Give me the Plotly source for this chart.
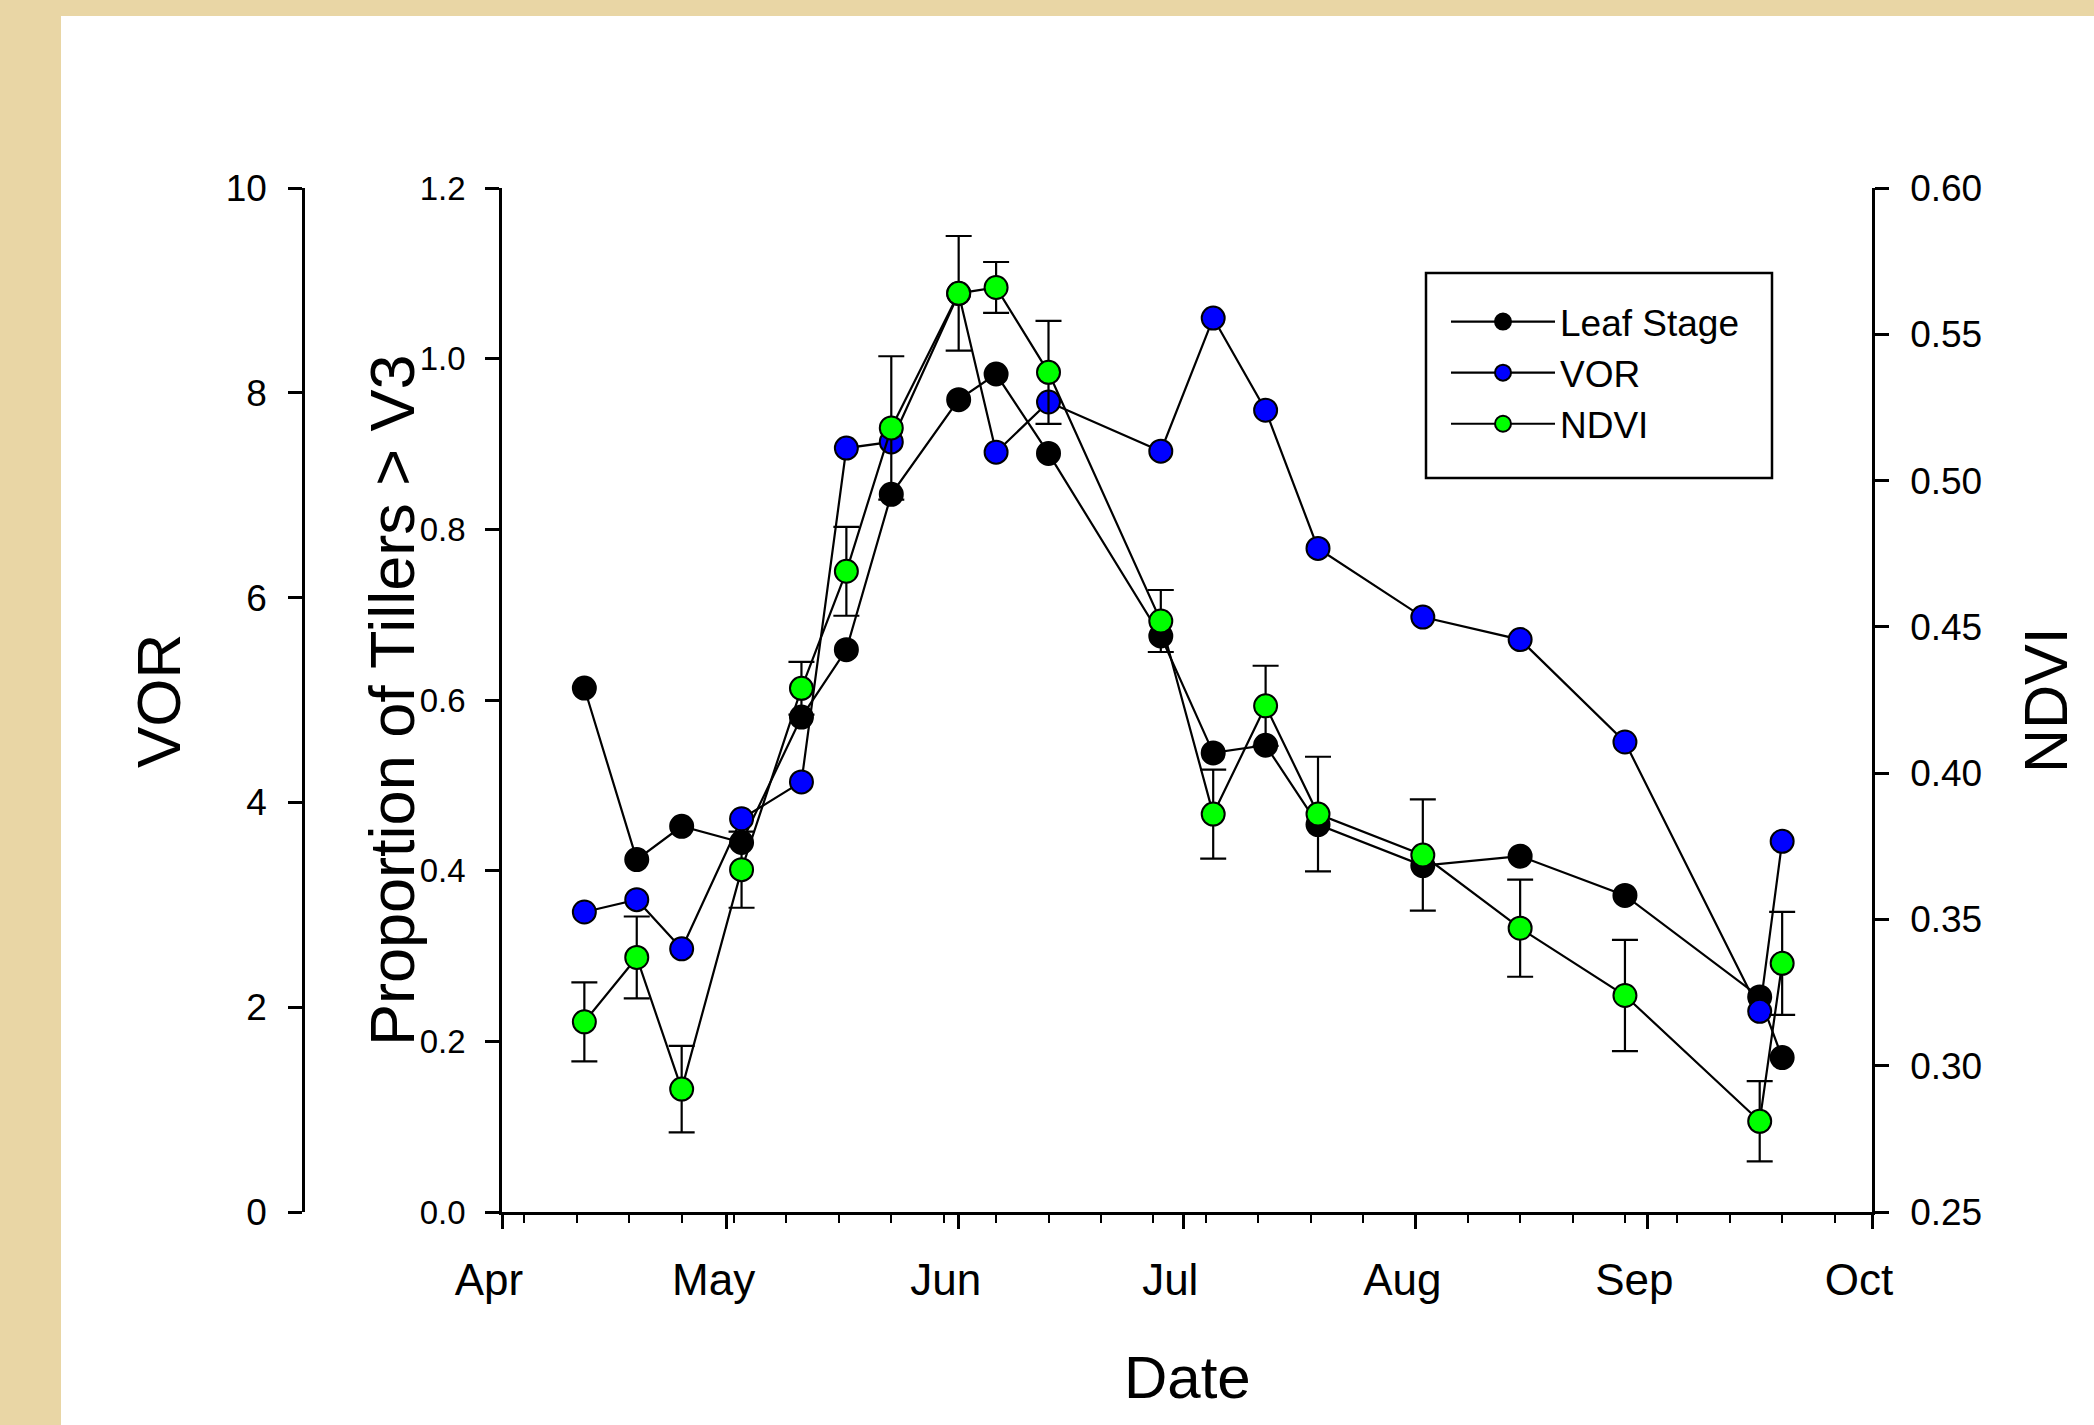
import plotly.graph_objects as go

# ---------------- data ----------------
dates = ["2010-04-12", "2010-04-19", "2010-04-25", "2010-05-03", "2010-05-11",
         "2010-05-17", "2010-05-23", "2010-06-01", "2010-06-06", "2010-06-13",
         "2010-06-28", "2010-07-05", "2010-07-12", "2010-07-19", "2010-08-02",
         "2010-08-15", "2010-08-29", "2010-09-16", "2010-09-19"]

leaf_stage = [0.614, 0.413, 0.452, 0.433, 0.580, 0.659, 0.841, 0.952, 0.982, 0.889,
              0.675, 0.538, 0.547, 0.454, 0.406, 0.417, 0.371, 0.252, 0.181]

vor = [2.93, 3.05, 2.57, 3.84, 4.20, 7.46, 7.52, 8.97, 7.42, 7.91,
       7.43, 8.73, 7.83, 6.48, 5.81, 5.59, 4.59, 1.96, 3.62]

ndvi = [0.315, 0.337, 0.292, 0.367, 0.429, 0.469, 0.518, 0.564, 0.566, 0.537,
        0.452, 0.386, 0.423, 0.386, 0.372, 0.347, 0.324, 0.281, 0.335]

ndvi_err = [0.0135, 0.014, 0.0148, 0.013, 0.009, 0.0152, 0.0245, 0.0196, 0.0087, 0.0176,
            0.0106, 0.0152, 0.0137, 0.0196, 0.019, 0.0166, 0.019, 0.0137, 0.0176]

month_ticks = ["2010-04-01", "2010-05-01", "2010-06-01", "2010-07-01",
               "2010-08-01", "2010-09-01", "2010-10-01"]
month_labels = ["Apr", "May", "Jun", "Jul", "Aug", "Sep", "Oct"]

# ---------------- layout geometry ----------------
W, H = 2094, 1425
ML, MR, MT, MB = 40, 222, 188, 213
PW = W - ML - MR
PH = H - MT - MB
PLOT_LEFT = 502
VOR_AXIS_X = 303


def px_x(px):
    return (px - ML) / PW


def px_y(py):
    return (H - MB - py) / PH


FONT = "Liberation Sans, Arial, sans-serif"

fig = go.Figure()

marker_line = dict(color="black", width=2)

fig.add_trace(go.Scatter(
    x=dates, y=leaf_stage, name="Leaf Stage", mode="lines+markers",
    line=dict(color="black", width=2.2),
    marker=dict(color="black", size=23, line=marker_line),
    xaxis="x", yaxis="y"))

fig.add_trace(go.Scatter(
    x=dates, y=vor, name="VOR", mode="lines+markers",
    line=dict(color="black", width=2.2),
    marker=dict(color="#0000FF", size=23, line=marker_line),
    xaxis="x", yaxis="y2"))

fig.add_trace(go.Scatter(
    x=dates, y=ndvi, name="NDVI", mode="lines+markers",
    line=dict(color="black", width=2.2),
    marker=dict(color="#00FF00", size=23, line=marker_line),
    error_y=dict(type="data", array=ndvi_err, visible=True,
                 color="black", thickness=2.2, width=13),
    xaxis="x", yaxis="y3"))

axis_common = dict(showgrid=False, zeroline=False, showline=True, automargin=False,
                   linecolor="black", linewidth=2.5, ticks="outside",
                   tickcolor="black", tickwidth=2.5, ticklen=14)

fig.update_layout(
    width=W, height=H,
    margin=dict(l=ML, r=MR, t=MT, b=MB, pad=0, autoexpand=False),
    paper_bgcolor="#E9D6A5",
    plot_bgcolor="rgba(0,0,0,0)",
    font=dict(family=FONT, color="black"),
    xaxis=dict(
        **{**axis_common, "linewidth": 3},
        domain=[px_x(PLOT_LEFT), 1.0],
        type="date",
        range=["2010-04-01", "2010-10-01"],
        tickmode="array", tickvals=month_ticks, ticktext=month_labels,
        tickfont=dict(size=44, family=FONT),
        ticklabelstandoff=13, ticklabelshift=-13,
        minor=dict(ticks="outside", ticklen=8, tickwidth=1.5, tickcolor="black",
                   dtick=7 * 86400000, tick0="2010-04-04", showgrid=False),
        anchor="y",
    ),
    yaxis=dict(
        **axis_common,
        range=[0, 1.2], dtick=0.2, tick0=0, tickformat=".1f",
        tickfont=dict(size=33, family=FONT),
        ticklabelstandoff=13,
        anchor="x", side="left",
    ),
    yaxis2=dict(
        **axis_common,
        range=[0, 10], dtick=2, tick0=0,
        tickfont=dict(size=37, family=FONT),
        ticklabelstandoff=14,
        overlaying="y", anchor="free", position=px_x(VOR_AXIS_X), side="left",
    ),
    yaxis3=dict(
        **axis_common,
        range=[0.25, 0.60], dtick=0.05, tick0=0.25, tickformat=".2f",
        tickfont=dict(size=37, family=FONT),
        ticklabelstandoff=14,
        overlaying="y", anchor="x", side="right",
    ),
    legend=dict(
        x=px_x(1446), y=px_y(291), xanchor="left", yanchor="top",
        borderwidth=0, bgcolor="rgba(0,0,0,0)",
        font=dict(size=37, family=FONT, color="black"),
        itemwidth=104, tracegroupgap=0,
    ),
    showlegend=True,
)

# white page area over the beige border
fig.add_shape(type="rect", xref="paper", yref="paper", layer="below",
              x0=px_x(61), x1=px_x(W + 20), y0=px_y(H + 20), y1=px_y(16),
              fillcolor="white", line=dict(width=0))

# legend frame
fig.add_shape(type="rect", xref="paper", yref="paper", layer="above",
              x0=px_x(1426), x1=px_x(1772), y0=px_y(478), y1=px_y(273),
              fillcolor="rgba(0,0,0,0)", line=dict(color="black", width=2.5))

title_font = dict(family=FONT, size=60, color="black")
fig.add_annotation(text="Date", xref="paper", yref="paper",
                   x=px_x(1187), y=px_y(1377), xanchor="center", yanchor="middle",
                   showarrow=False, font=title_font)
fig.add_annotation(text="Proportion of Tillers &gt; V3", xref="paper", yref="paper",
                   x=px_x(392), y=px_y(700), xanchor="center", yanchor="middle",
                   textangle=-90, showarrow=False, font=dict(family=FONT, size=63, color="black"))
fig.add_annotation(text="VOR", xref="paper", yref="paper",
                   x=px_x(158), y=px_y(701), xanchor="center", yanchor="middle",
                   textangle=-90, showarrow=False, font=dict(family=FONT, size=62, color="black"))
fig.add_annotation(text="NDVI", xref="paper", yref="paper",
                   x=px_x(2046), y=px_y(700), xanchor="center", yanchor="middle",
                   textangle=-90, showarrow=False, font=dict(family=FONT, size=61, color="black"))

fig.write_html("out.html", config={"displayModeBar": False},
               post_script="document.body.style.margin='0px';")
